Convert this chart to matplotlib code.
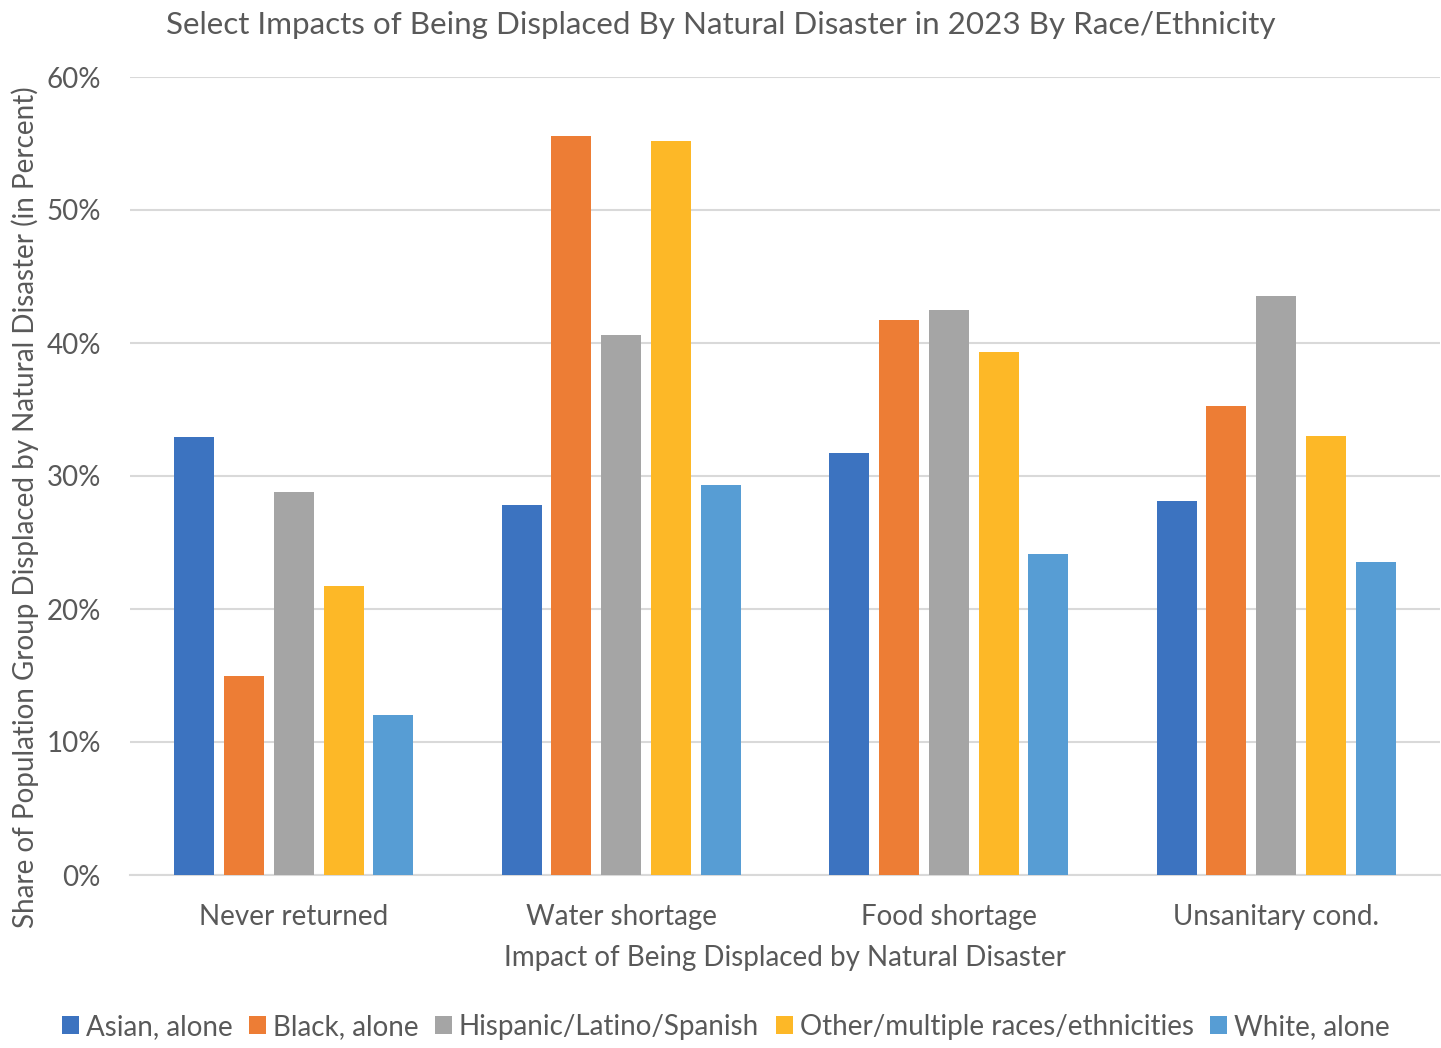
import matplotlib.pyplot as plt
import numpy as np
from matplotlib.ticker import PercentFormatter

plt.rcParams["font.family"] = ["Lato", "DejaVu Sans"]

impacts = ["Never returned", "Water shortage", "Food shortage", "Unsanitary cond."]
groups = [
    "Asian, alone",
    "Black, alone",
    "Hispanic/Latino/Spanish",
    "Other/multiple races/ethnicities",
    "White, alone",
]
asian = [32.9, 27.8, 31.7, 28.1]
black = [15.0, 55.6, 41.7, 35.3]
hispanic = [28.8, 40.6, 42.5, 43.5]
other = [21.7, 55.2, 39.3, 33.0]
white = [12.0, 29.3, 24.1, 23.5]
series = [asian, black, hispanic, other, white]

colors = ["#3C73C0", "#ED7D35", "#A5A5A5", "#FDB827", "#579DD4"]
text_color = "#595959"

fig = plt.figure(figsize=(14.41, 10.48), dpi=100)
ax = fig.add_axes([130 / 1441, 1 - 875 / 1048, 1310 / 1441, 798 / 1048])

x = np.arange(len(impacts))
pitch = 0.152
width = 0.122
for i, (vals, name, c) in enumerate(zip(series, groups, colors)):
    ax.bar(x + (i - 2) * pitch, vals, width, color=c, label=name, zorder=3)

ax.set_xlim(-0.5, 3.5)
ax.set_ylim(0, 60)
ax.set_yticks(range(0, 61, 10))
ax.yaxis.set_major_formatter(PercentFormatter(decimals=0))
ax.set_xticks(x)
ax.set_xticklabels(impacts)
ax.grid(axis="y", color="#D9D9D9", linewidth=1.5, zorder=0)
for s in ["top", "right", "left"]:
    ax.spines[s].set_visible(False)
ax.spines["bottom"].set_color("#D9D9D9")
ax.spines["bottom"].set_linewidth(1.5)
ax.tick_params(length=0, colors=text_color, labelsize=20)
ax.tick_params(axis="x", pad=21)
ax.tick_params(axis="y", pad=21)

fig.text(721 / 1441, 1 - 25 / 1048, "Select Impacts of Being Displaced By Natural Disaster in 2023 By Race/Ethnicity",
         ha="center", va="center", fontsize=22.6, color=text_color)
fig.text(785 / 1441, 1 - 958 / 1048, "Impact of Being Displaced by Natural Disaster",
         ha="center", va="center", fontsize=20, color=text_color)
fig.text(25 / 1441, 1 - 507 / 1048, "Share of Population Group Displaced by Natural Disaster (in Percent)",
         ha="center", va="center", rotation=90, fontsize=20, color=text_color)

fig.legend(loc="center", bbox_to_anchor=(726 / 1441, 1 - 1027 / 1048), ncol=5, frameon=False,
           fontsize=20, handlelength=0.6, handleheight=0.6, handletextpad=0.25, columnspacing=0.6,
           labelcolor=text_color)

fig.savefig("out.png", dpi=100)
